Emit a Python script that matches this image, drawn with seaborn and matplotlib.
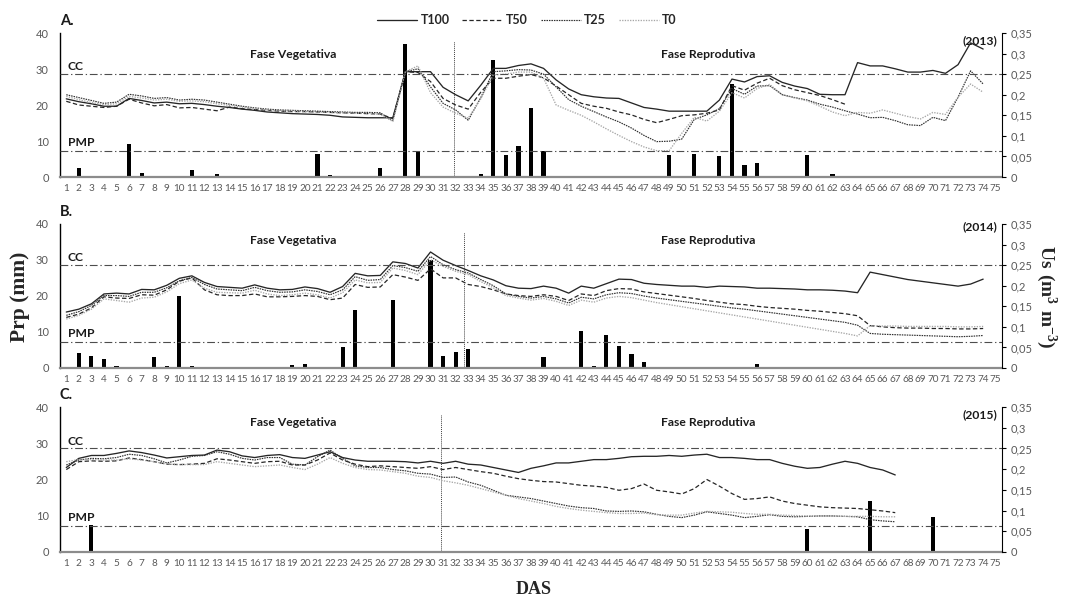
import numpy as np
import pandas as pd
import matplotlib
matplotlib.use("Agg")
import matplotlib.pyplot as plt
import seaborn as sns
from matplotlib.lines import Line2D

# ---------------- data ----------------
days = list(range(1, 76))
line_days_ab = list(range(1, 75))
line_days_c = list(range(1, 68))

# 2013 (A)
a_t100 = [0.190,0.183,0.178,0.172,0.172,0.191,0.186,0.180,0.182,0.178,
          0.179,0.176,0.172,0.169,0.165,0.162,0.158,0.156,0.154,0.153,
          0.152,0.150,0.146,0.145,0.144,0.144,0.144,0.256,0.256,0.256,
          0.218,0.200,0.185,0.223,0.264,0.264,0.271,0.275,0.264,0.236,
          0.214,0.200,0.195,0.192,0.191,0.180,0.169,0.165,0.160,0.160,
          0.160,0.160,0.187,0.238,0.231,0.244,0.246,0.230,0.221,0.215,
          0.201,0.200,0.200,0.278,0.270,0.270,0.263,0.255,0.255,0.259,
          0.252,0.273,0.326,0.311]
a_t50 = [0.184,0.175,0.172,0.169,0.172,0.189,0.180,0.173,0.176,0.168,
         0.169,0.165,0.161,0.170,0.166,0.164,0.162,0.160,0.159,0.159,
         0.158,0.157,0.156,0.155,0.154,0.153,0.142,0.256,0.254,0.232,
         0.191,0.175,0.165,0.206,0.240,0.240,0.245,0.249,0.241,0.221,
         0.200,0.179,0.172,0.167,0.158,0.151,0.140,0.132,0.140,0.149,
         0.151,0.155,0.163,0.222,0.211,0.228,0.240,0.222,0.212,0.205,
         0.198,0.188,0.177] + [np.nan] * 11
a_t25 = [0.200,0.193,0.186,0.179,0.182,0.201,0.197,0.191,0.193,0.187,
         0.189,0.187,0.182,0.177,0.172,0.168,0.165,0.163,0.162,0.161,
         0.160,0.159,0.158,0.157,0.157,0.156,0.137,0.256,0.263,0.219,
         0.179,0.163,0.138,0.193,0.256,0.258,0.261,0.260,0.250,0.219,
         0.188,0.172,0.159,0.146,0.134,0.119,0.101,0.086,0.087,0.092,
         0.140,0.151,0.166,0.215,0.201,0.221,0.222,0.200,0.193,0.187,
         0.177,0.170,0.161,0.153,0.144,0.145,0.137,0.127,0.125,0.145,
         0.137,0.194,0.258,0.226]
a_t0 = [0.196,0.188,0.181,0.176,0.178,0.196,0.192,0.187,0.189,0.184,
        0.185,0.183,0.178,0.174,0.170,0.166,0.163,0.161,0.160,0.159,
        0.158,0.157,0.156,0.155,0.155,0.152,0.135,0.256,0.270,0.205,
        0.170,0.155,0.143,0.190,0.248,0.250,0.255,0.255,0.240,0.175,
        0.162,0.150,0.134,0.117,0.101,0.086,0.073,0.064,0.064,0.106,
        0.145,0.136,0.160,0.205,0.192,0.215,0.225,0.200,0.192,0.185,
        0.172,0.158,0.149,0.157,0.155,0.163,0.155,0.147,0.141,0.157,
        0.152,0.194,0.226,0.206]
rain_days_a = [2, 6, 7, 11, 12, 13, 14, 21, 22, 26, 28, 29, 34, 35, 36, 37, 38, 39,
               49, 50, 51, 53, 54, 55, 56, 60, 62]
rain_mm_a = [2.5, 9.3, 1.2, 1.9, 0.4, 0.7, 0.3, 6.5, 0.6, 2.5, 37.0, 7.2, 0.7, 32.6,
             6.2, 8.7, 19.3, 7.2, 6.0, 0.4, 6.5, 5.8, 25.9, 3.3, 4.0, 6.2, 0.8]

# 2014 (B)
b_t100 = [0.136,0.143,0.156,0.180,0.182,0.180,0.191,0.190,0.201,0.218,
          0.224,0.208,0.198,0.196,0.194,0.202,0.194,0.190,0.191,0.197,
          0.193,0.184,0.198,0.230,0.224,0.225,0.258,0.254,0.243,0.282,
          0.262,0.249,0.237,0.224,0.214,0.200,0.194,0.193,0.199,0.194,
          0.182,0.199,0.194,0.205,0.216,0.215,0.206,0.203,0.201,0.199,
          0.199,0.196,0.199,0.198,0.197,0.194,0.194,0.193,0.192,0.190,
          0.190,0.189,0.187,0.183,0.233,0.227,0.221,0.215,0.211,0.207,
          0.203,0.199,0.204,0.216]
b_t50 = [0.123,0.131,0.146,0.173,0.170,0.169,0.178,0.177,0.190,0.211,
         0.219,0.190,0.178,0.176,0.176,0.180,0.173,0.173,0.174,0.176,
         0.174,0.166,0.170,0.203,0.196,0.197,0.227,0.221,0.213,0.241,
         0.219,0.219,0.203,0.198,0.190,0.180,0.176,0.174,0.178,0.174,
         0.164,0.180,0.176,0.188,0.193,0.192,0.185,0.181,0.177,0.173,
         0.169,0.164,0.160,0.156,0.154,0.150,0.147,0.145,0.143,0.140,
         0.138,0.135,0.132,0.127,0.103,0.100,0.098,0.097,0.097,0.096,
         0.096,0.095,0.095,0.096]
b_t25 = [0.128,0.137,0.152,0.176,0.176,0.174,0.184,0.184,0.195,0.212,
         0.220,0.203,0.192,0.190,0.188,0.196,0.188,0.184,0.185,0.190,
         0.186,0.178,0.190,0.222,0.213,0.215,0.249,0.244,0.235,0.271,
         0.251,0.239,0.231,0.215,0.200,0.180,0.174,0.170,0.174,0.168,
         0.158,0.172,0.168,0.178,0.183,0.181,0.175,0.170,0.166,0.162,
         0.158,0.154,0.150,0.146,0.143,0.139,0.135,0.131,0.127,0.123,
         0.119,0.115,0.111,0.104,0.084,0.082,0.081,0.080,0.079,0.078,
         0.077,0.076,0.077,0.079]
b_t0 = [0.119,0.128,0.143,0.168,0.164,0.160,0.170,0.172,0.185,0.205,
        0.214,0.194,0.184,0.183,0.182,0.189,0.180,0.176,0.178,0.182,
        0.178,0.170,0.183,0.214,0.207,0.208,0.243,0.237,0.227,0.263,
        0.247,0.235,0.227,0.210,0.195,0.176,0.170,0.165,0.169,0.162,
        0.152,0.165,0.160,0.170,0.174,0.171,0.165,0.159,0.154,0.149,
        0.144,0.139,0.134,0.129,0.124,0.119,0.114,0.109,0.104,0.099,
        0.094,0.089,0.084,0.078,0.103,0.102,0.102,0.101,0.101,0.101,
        0.101,0.100,0.100,0.101]
rain_days_b = [2, 3, 4, 5, 8, 9, 10, 11, 19, 20, 23, 24, 27, 30, 31, 32, 33, 39,
               42, 43, 44, 45, 46, 47, 56]
rain_mm_b = [4.2, 3.2, 2.5, 0.5, 3.0, 0.5, 20.0, 0.5, 0.7, 1.0, 5.9, 16.2, 19.0,
             29.9, 3.4, 4.4, 5.4, 3.0, 10.4, 0.5, 9.1, 6.2, 3.9, 1.7, 1.2]

# 2015 (C)
c_t100 = [0.204,0.226,0.233,0.233,0.238,0.244,0.240,0.234,0.227,0.230,
          0.233,0.234,0.246,0.242,0.232,0.228,0.233,0.235,0.228,0.226,
          0.234,0.242,0.228,0.222,0.219,0.219,0.219,0.218,0.215,0.219,
          0.214,0.219,0.212,0.210,0.204,0.198,0.192,0.202,0.208,0.215,
          0.215,0.219,0.223,0.223,0.226,0.230,0.231,0.231,0.233,0.231,
          0.234,0.236,0.228,0.228,0.226,0.223,0.223,0.214,0.207,0.202,
          0.204,0.212,0.219,0.214,0.204,0.198,0.186]
c_t50 = [0.199,0.218,0.220,0.219,0.220,0.227,0.223,0.218,0.212,0.211,
         0.212,0.214,0.225,0.222,0.218,0.214,0.218,0.219,0.210,0.210,
         0.222,0.239,0.222,0.212,0.206,0.208,0.206,0.204,0.202,0.206,
         0.199,0.204,0.199,0.194,0.190,0.183,0.177,0.173,0.170,0.169,
         0.165,0.161,0.159,0.156,0.149,0.153,0.164,0.149,0.145,0.140,
         0.153,0.175,0.159,0.141,0.127,0.129,0.133,0.123,0.117,0.113,
         0.109,0.107,0.106,0.105,0.102,0.099,0.095]
c_t25 = [0.210,0.222,0.226,0.225,0.228,0.236,0.233,0.225,0.215,0.222,
         0.231,0.233,0.242,0.236,0.226,0.222,0.228,0.228,0.212,0.210,
         0.230,0.246,0.226,0.208,0.204,0.204,0.199,0.196,0.190,0.188,
         0.180,0.181,0.169,0.161,0.149,0.137,0.133,0.129,0.123,0.117,
         0.111,0.107,0.105,0.099,0.098,0.099,0.097,0.091,0.086,0.083,
         0.089,0.097,0.093,0.089,0.083,0.086,0.090,0.086,0.085,0.086,
         0.087,0.087,0.086,0.085,0.078,0.075,0.073]
c_t0 = [0.218,0.223,0.223,0.222,0.222,0.225,0.222,0.218,0.212,0.211,
        0.211,0.211,0.218,0.214,0.210,0.206,0.208,0.210,0.204,0.199,
        0.212,0.228,0.214,0.204,0.199,0.198,0.194,0.190,0.183,0.180,
        0.172,0.167,0.161,0.153,0.145,0.137,0.129,0.123,0.117,0.110,
        0.105,0.101,0.098,0.095,0.093,0.093,0.094,0.090,0.089,0.089,
        0.094,0.098,0.097,0.096,0.093,0.091,0.091,0.089,0.088,0.087,
        0.087,0.087,0.086,0.086,0.086,0.085,0.085]
rain_days_c = [3, 16, 60, 65, 70]
rain_mm_c = [7.5, 0.3, 6.4, 14.0, 9.7]

cc_value = 0.25
pmp_value = 0.062
phase_split = [31.85, 32.7, 30.8]
years = ["(2013)", "(2014)", "(2015)"]
panel_letters = ["A.", "B.", "C."]
treatments = ["T100", "T50", "T25", "T0"]

# ---------------- style ----------------
sns.set_style("white")
plt.rcParams['font.family'] = ['Lato', 'DejaVu Sans']
plt.rcParams['mathtext.fontset'] = 'custom'
plt.rcParams['mathtext.rm'] = 'Liberation Serif'
plt.rcParams['mathtext.bf'] = 'Liberation Serif:bold'

styles = {
    "T100": dict(color="#262626", lw=0.95, ls="-"),
    "T50": dict(color="#262626", lw=0.9, ls=(0, (3.5, 2))),
    "T25": dict(color="#303030", lw=0.85, ls=(0, (1.3, 0.8))),
    "T0": dict(color="#a6a6a6", lw=0.95, ls=(0, (1, 1))),
}

tick_col = "#595959"
W, H = 1069, 598
fig = plt.figure(figsize=(W / 100, H / 100), dpi=100)

panels = [
    (a_t100, a_t50, a_t25, a_t0, rain_days_a, rain_mm_a, line_days_ab, (33, 177), 33.9, 38.0),
    (b_t100, b_t50, b_t25, b_t0, rain_days_b, rain_mm_b, line_days_ab, (224, 368), 35.5, 39.2),
    (c_t100, c_t50, c_t25, c_t0, rain_days_c, rain_mm_c, line_days_c, (407, 552), 35.6, 38.0),
]

for i, (t100, t50, t25, t0, rdays, rmm, ldays, (ytop, ybot), fase_y, year_y) in enumerate(panels):
    ax = fig.add_axes([60 / W, 1 - ybot / H, 942 / W, (ybot - ytop) / H])
    ax2 = ax.twinx()

    rain = pd.Series(rmm, index=rdays).reindex(days, fill_value=0.0)
    sns.barplot(x=days, y=rain.values, native_scale=True, width=0.33, color="black",
                saturation=1, errorbar=None, linewidth=0, ax=ax)

    for name, vals in zip(treatments, [t100, t50, t25, t0]):
        st = styles[name]
        sns.lineplot(x=ldays, y=vals, ax=ax2, color=st["color"], lw=st["lw"])
        ax2.lines[-1].set_linestyle(st["ls"])

    # reference lines
    for v in (cc_value, pmp_value):
        ax2.axhline(v, color="#4d4d4d", lw=0.8, ls=(0, (7, 2.5, 1.2, 2.5)))
    ax.vlines(phase_split[i], 0, 37.8, color="#404040", lw=0.7, ls=(0, (1, 1)))

    ax.set_xlim(0.5, 75.5)
    ax.set_ylim(0, 40)
    ax2.set_ylim(0, 0.35)
    ax.set_xticks(days)
    ax.set_xticklabels([str(d) for d in days], fontsize=7.2, color=tick_col)
    ax.tick_params(axis="x", length=0, pad=5)
    ax.set_yticks([0, 10, 20, 30, 40])
    ax.set_yticklabels(["0", "10", "20", "30", "40"], fontsize=8, color=tick_col)
    ax.tick_params(axis="y", length=0, pad=8)
    rt = np.round(np.arange(0, 0.351, 0.05), 2)
    ax2.set_yticks(rt)
    ax2.set_yticklabels(["0"] + [f"{v:g}".replace(".", ",") for v in rt[1:]],
                        fontsize=8, color=tick_col)
    ax2.tick_params(axis="y", length=3, width=0.8, pad=3, color="black", direction="out")
    ax.set_xlabel("")
    ax.set_ylabel("")
    ax2.set_xlabel("")
    ax2.set_ylabel("")

    for s in ("top", "right"):
        ax.spines[s].set_visible(False)
    ax.spines["left"].set_color("black")
    ax.spines["left"].set_linewidth(1.0)
    ax.spines["bottom"].set_color("#8c8c8c")
    ax.spines["bottom"].set_linewidth(1.6)
    for s in ("top", "left", "bottom"):
        ax2.spines[s].set_visible(False)
    ax2.spines["right"].set_color("black")
    ax2.spines["right"].set_linewidth(0.8)

    bold = dict(fontweight="bold", color="#1a1a1a")
    ax.text(19.05, fase_y, "Fase Vegetativa", ha="center", va="center", fontsize=8.7, **bold)
    ax.text(52.1, fase_y, "Fase Reprodutiva", ha="center", va="center", fontsize=8.7, **bold)
    ax.text(1.1, 30.6, "CC", ha="left", va="center", fontsize=8.7, **bold)
    ax.text(1.1, 9.6, "PMP", ha="left", va="center", fontsize=8.7, **bold)
    ax.text(0.995, year_y, years[i], ha="right", va="center", fontsize=8.7,
            transform=ax.get_yaxis_transform(), **bold)
    fig.text(60 / W, 1 - (ytop - 12) / H, panel_letters[i], ha="left", va="center",
             fontsize=10.5, fontweight="bold", color="#1a1a1a")

# axis titles
fig.text(20 / W, 1 - 297 / H, "Prp (mm)", rotation=90, ha="center", va="center",
         fontsize=15.5, fontweight="bold", family="Liberation Serif")
fig.text(1046 / W, 1 - 297 / H, r"$\mathbf{Us\ (m^{3}\ m^{-3})}$", rotation=270,
         ha="center", va="center", fontsize=14)
fig.text(534 / W, 1 - 590 / H, "DAS", ha="center", va="center",
         fontsize=13, fontweight="bold", family="Liberation Serif")

# legend
handles = [Line2D([], [], color=styles[n]["color"], lw=styles[n]["lw"], ls=styles[n]["ls"])
           for n in treatments]
leg = fig.legend(handles, treatments, loc="center", bbox_to_anchor=(527 / W, 1 - 20 / H),
                 ncol=4, frameon=False, handlelength=3.2, handletextpad=0.3,
                 columnspacing=1.0, prop=dict(family="Lato", weight="bold", size=9))

fig.savefig("out.png", dpi=100)
